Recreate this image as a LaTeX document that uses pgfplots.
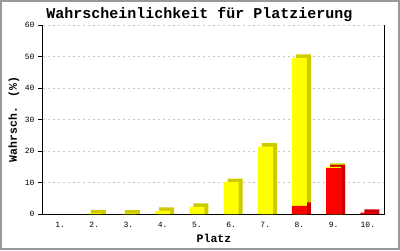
\documentclass[border=0pt]{standalone}
\usepackage{fontspec}
\setmainfont{Liberation Mono}
\usepackage{pgfplots}
\pgfplotsset{compat=1.18}
\definecolor{yel}{RGB}{255,255,0}
\definecolor{dyel}{RGB}{204,204,0}
\definecolor{rd}{RGB}{255,0,0}
\definecolor{drd}{RGB}{204,0,0}
\begin{document}
\begin{tikzpicture}[x=1pt,y=1pt]
\useasboundingbox (0,0) rectangle (400,250);
\fill[white] (0,0) rectangle (400,250);
\begin{axis}[
  at={(43pt,36pt)}, anchor=south west,
  scale only axis, width=342pt, height=189pt,
  xmin=0.5, xmax=10.5, ymin=0, ymax=60,
  ybar, bar width=15pt,
  axis x line*=bottom, axis y line*=left,
  axis line style={black, line width=1pt},
  xtick={1,...,10},
  xticklabels={1.,2.,3.,4.,5.,6.,7.,8.,9.,10.},
  ytick={0,10,20,30,40,50,60},
  major x tick style={draw=none},
  ytick pos=left, tick align=outside,
  major tick length=5pt,
  major y tick style={black, line width=0.8pt},
  ymajorgrids,
  major grid style={gray!45, dash pattern=on 2pt off 3pt, line width=0.8pt},
  /pgf/number format/assume math mode=true,
  tick label style={font=\fontsize{8}{9}\selectfont},
  title={Wahrscheinlichkeit für Platzierung},
  title style={font=\fontsize{15}{16}\selectfont\bfseries, anchor=base, at={(axis description cs:0.4576,1)}, yshift=1pt},
  xlabel={Platz},
  xlabel style={font=\fontsize{11.5}{12}\selectfont\bfseries, anchor=base, at={(axis description cs:0.5,0)}, yshift=-28pt},
  ylabel={Wahrsch. (\%)},
  ylabel style={font=\fontsize{11.5}{12}\selectfont\bfseries, anchor=base, at={(axis description cs:0,0.5)}, yshift=26pt},
  extra description/.code={\draw[black, line width=1pt] (rel axis cs:1,0) -- (rel axis cs:1,1);},
  clip=false,
]
% shadows (side and top faces)
\addplot[draw=none, fill=dyel, bar shift=4pt] coordinates {(2,1.3) (3,1.25) (4,2.1) (5,3.4) (6,11.2) (7,22.5) (8,50.7) (9,16.1)};
\addplot[draw=none, fill=drd, bar shift=4pt] coordinates {(8,3.7) (9,15.6) (10,1.5)};
% front faces
\addplot[draw=none, fill=yel, bar shift=0pt] coordinates {(2,0.2) (3,0.15) (4,1.0) (5,2.3) (6,10.1) (7,21.4) (8,49.6) (9,15.0)};
\addplot[draw=none, fill=rd, bar shift=0pt] coordinates {(8,2.6) (9,14.6) (10,0.4)};
\end{axis}
\draw[gray!80, line width=2pt] (1,1) rectangle (399,249);
\end{tikzpicture}
\end{document}
